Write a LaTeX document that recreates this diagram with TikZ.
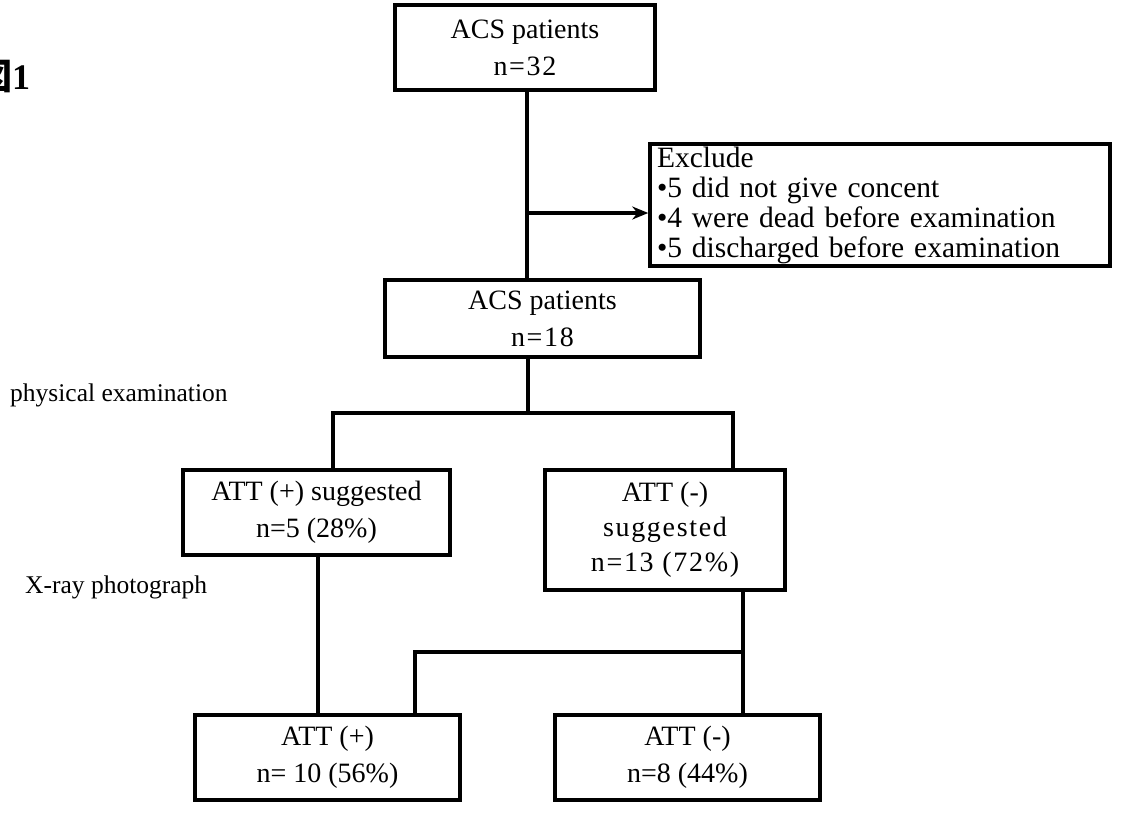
\documentclass[tikz,border=0pt]{standalone}
\usepackage{fontspec}
\setmainfont{Liberation Serif}
\newfontfamily\cjk{Noto Sans CJK JP}
\newfontfamily\wide[LetterSpace=6]{Liberation Serif}
\usetikzlibrary{arrows.meta}
\tikzset{
  box/.style={draw, line width=3.5pt, rectangle, align=center, inner sep=0pt,
    font=\fontsize{28}{37}\selectfont},
  conn/.style={line width=4pt},
  side/.style={anchor=west, inner sep=0pt, font=\fontsize{25.5}{30}\selectfont},
}
\begin{document}
\begin{tikzpicture}[x=1pt,y=-1pt]
\useasboundingbox (0,0) rectangle (1136,825);
% figure label
\node[anchor=west, inner sep=0pt, font=\fontsize{36}{40}\selectfont\bfseries] (fig) at (-24,77) {{\cjk 図}1};
% boxes
\node[box, minimum width=260pt, minimum height=85pt] (b1) at (525,47.5) {ACS patients\\{\wide n=32}};
\node[box, minimum width=460pt, minimum height=122pt, align=left, text width=446pt,
      font=\fontsize{29.5}{30}\selectfont] (ex) at (880,205)
  {Exclude\\•5 did not give concent\\•4 were dead before examination\\•5 discharged before examination};
\node[box, minimum width=315pt, minimum height=77pt] (b2) at (542.5,318.5) {ACS patients\\{\wide n=18}};
\node[box, minimum width=267pt, minimum height=85pt] (b3) at (316.5,512.5) {ATT (+) suggested\\n=5 (28\%)};
\node[box, minimum width=240pt, minimum height=120pt, font=\fontsize{28}{35}\selectfont] (b4) at (665,530)
  {ATT (-)\\{\wide suggested}\\{\wide n=13 (72\%)}};
\node[box, minimum width=265pt, minimum height=85pt] (b5) at (327.5,757.5) {ATT (+)\\n= 10 (56\%)};
\node[box, minimum width=265pt, minimum height=85pt] (b6) at (687.5,757.5) {ATT (-)\\n=8 (44\%)};
% side labels
\node[side] (pe) at (10,395) {physical examination};
\node[side] (xr) at (25,587) {X-ray photograph};
% connectors
\coordinate (m1) at (527,213);
\draw[conn] (m1 |- b1.south) -- (m1 |- b2.north);
\draw[conn, -{Stealth[length=16pt,width=13pt]}] (m1) -- (m1 -| ex.west);
\coordinate (j1) at (528,413);
\coordinate (jl) at (333,413);
\coordinate (jr) at (733,413);
\draw[conn] (j1 |- b2.south) -- (j1);
\draw[conn] (jl |- b3.north) -- (jl) -- (jr) -- (jr |- b4.north);
\coordinate (k1) at (318,600);
\draw[conn] (k1 |- b3.south) -- (k1 |- b5.north);
\coordinate (kr) at (743,652);
\coordinate (kl) at (415,652);
\draw[conn] (kr |- b4.south) -- (kr |- b6.north);
\draw[conn] (kr) -- (kl) -- (kl |- b5.north);
\end{tikzpicture}
\end{document}
